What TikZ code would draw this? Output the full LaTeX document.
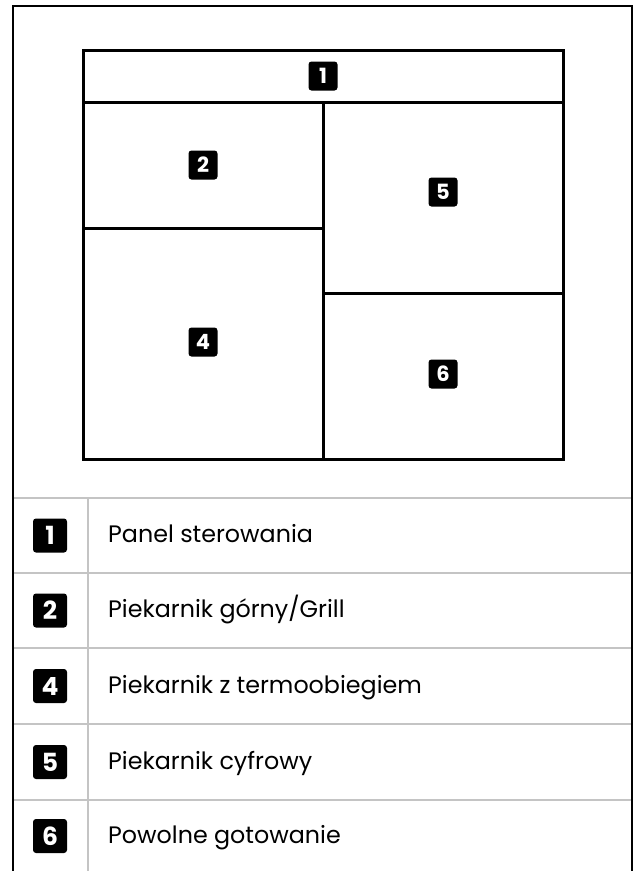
\documentclass[tikz,border=0pt]{standalone}
\usepackage{fontspec}
\setmainfont{Poppins}
\definecolor{gridgray}{RGB}{196,196,196}
\begin{document}
\begin{tikzpicture}[x=1pt,y=-1pt,
  frame/.style={line width=2pt,draw=black},
  boxline/.style={line width=3pt,draw=black},
  gridline/.style={line width=2pt,draw=gridgray},
  badge/.style={fill=black,rounded corners=3pt,minimum size=29pt,inner sep=0pt,text=white,font=\fontsize{21}{21}\selectfont\bfseries},
  tbadge/.style={badge,minimum size=34pt,font=\fontsize{25}{25}\selectfont\bfseries},
  rowlabel/.style={anchor=base west,inner sep=0pt,font=\fontsize{23.8}{24}\selectfont}]
\useasboundingbox (0,0) rectangle (634,871);
% table grid
\foreach \yy in {498,573,648,724,800} {\draw[gridline] (13,\yy) -- (632,\yy);}
\draw[gridline] (88,498) -- (88,871);
% outer frame
\draw[frame] (13,871) -- (13,6) -- (632,6) -- (632,871);
% inner cabinet drawing
\draw[boxline] (83,50) rectangle (563,459);
\draw[boxline] (83,102) -- (563,102);
\draw[boxline] (323,102) -- (323,459);
\draw[boxline] (83,228) -- (323,228);
\draw[boxline] (323,293) -- (563,293);
% badges in drawing
\node[badge] (d1) at (323,76) {1};
\node[badge] (d2) at (203,165) {2};
\node[badge] (d5) at (443,192) {5};
\node[badge] (d4) at (203,342) {4};
\node[badge] (d6) at (443,374) {6};
% table
\node[tbadge] (k1) at (50,535.5) {1};
\node[tbadge] (k2) at (50,610.5) {2};
\node[tbadge] (k4) at (50,686) {4};
\node[tbadge] (k5) at (50,762) {5};
\node[tbadge] (k6) at (50,836) {6};
\node[rowlabel] (t1) at (108,542.5) {Panel sterowania};
\node[rowlabel] (t2) at (108,617.5) {Piekarnik górny/Grill};
\node[rowlabel] (t4) at (108,693) {Piekarnik z termoobiegiem};
\node[rowlabel] (t5) at (108,769) {Piekarnik cyfrowy};
\node[rowlabel] (t6) at (108,843) {Powolne gotowanie};
\end{tikzpicture}
\end{document}
